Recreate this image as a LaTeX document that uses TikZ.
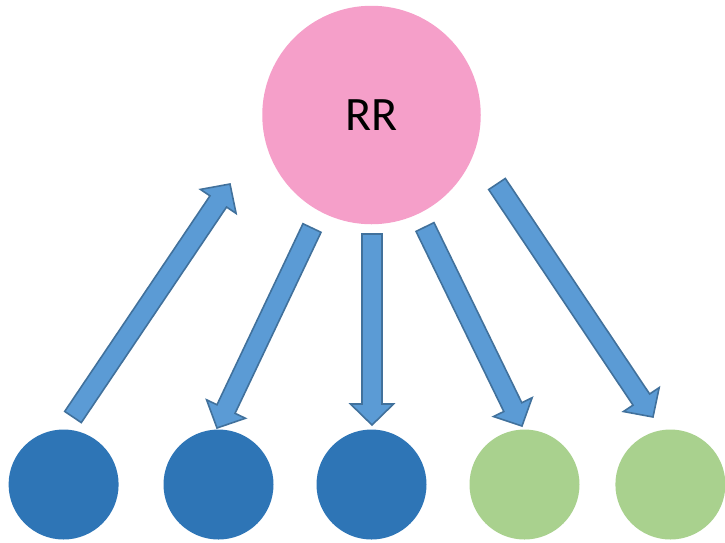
\documentclass[tikz,border=0pt]{standalone}
\usepackage{fontspec}
\setmainfont{Carlito}
\usetikzlibrary{calc}
\definecolor{rrpink}{HTML}{F59FC9}
\definecolor{nodeblue}{HTML}{2E75B6}
\definecolor{nodegreen}{HTML}{A9D18E}
\definecolor{arrowfill}{HTML}{5B9BD5}
\definecolor{arrowline}{HTML}{41719C}
\begin{document}
\begin{tikzpicture}[x=1pt,y=-1pt]
  \tikzstyle{big}=[circle,fill=rrpink,inner sep=0,minimum size=218.5pt,font=\fontsize{48}{48}\selectfont]
  \tikzstyle{small}=[circle,inner sep=0,minimum size=110pt]
  \tikzstyle{barrow}=[fill=arrowfill,draw=arrowline,line width=1.6pt,line join=miter]
  \def\sw{10pt}	% half width of shaft
  \def\hw{21.5pt}	% half width of head
  \def\hl{21pt}	% length of head
  \useasboundingbox (0,0) rectangle (725,542);
  \node[big] (RR) at (371.5,115) {RR};
  \node[small,fill=nodeblue] (b1) at (63.6,484.5) {};
  \node[small,fill=nodeblue] (b2) at (218.5,484.5) {};
  \node[small,fill=nodeblue] (b3) at (371.5,484.5) {};
  \node[small,fill=nodegreen] (g1) at (524.5,484.5) {};
  \node[small,fill=nodegreen] (g2) at (670.4,484.5) {};
  % ends of the block arrows
  \path (b1) + (9.4,-67.5) coordinate (b1t);
  \path (RR) + (-141.5,69) coordinate (b1h);
  \path (RR) + (-59.5,113) coordinate (b2t);
  \path (b2) + (-1.5,-56.5) coordinate (b2h);
  \path (RR) + (0.5,119) coordinate (b3t);
  \path (b3) + (0.5,-59.5) coordinate (b3h);
  \path (RR) + (53.5,112) coordinate (g1t);
  \path (g1) + (-2.5,-58.5) coordinate (g1h);
  \path (RR) + (125.5,69) coordinate (g2t);
  \path (g2) + (-17.4,-67.5) coordinate (g2h);
  \foreach \a in {b1,b2,b3,g1,g2} {
    \coordinate (n) at ($(\a h)!\hl!(\a t)$);
    \draw[barrow] ($(\a t)!\sw!90:(\a h)$) -- ($(n)!\sw!-90:(\a t)$)
      -- ($(n)!\hw!-90:(\a t)$) -- (\a h) -- ($(n)!\hw!90:(\a t)$)
      -- ($(n)!\sw!90:(\a t)$) -- ($(\a t)!\sw!-90:(\a h)$) -- cycle;
  }
\end{tikzpicture}
\end{document}
